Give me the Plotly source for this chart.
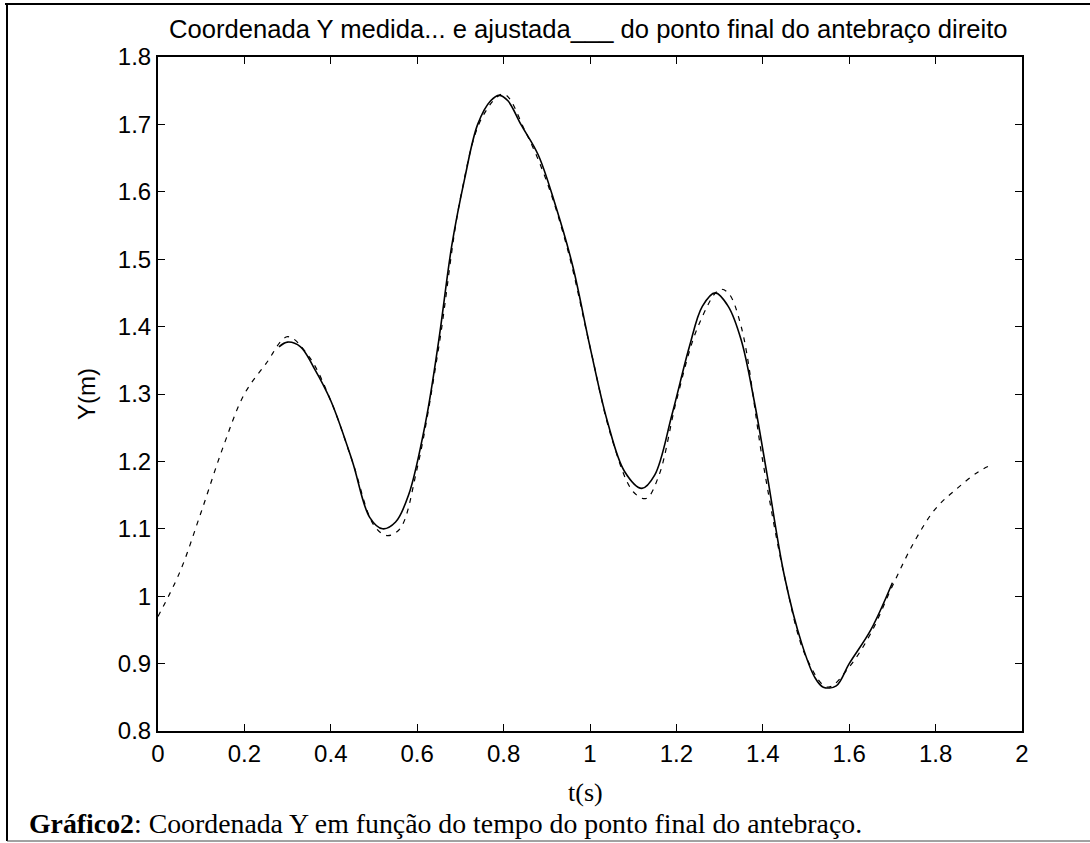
import plotly.graph_objects as go

# Measured (dashed) series
t_medida = [0.00, 0.05, 0.10, 0.15, 0.20, 0.25, 0.30, 0.35, 0.40, 0.45, 0.50, 0.53, 0.56,
            0.60, 0.65, 0.70, 0.75, 0.80, 0.85, 0.90, 0.95, 1.00, 1.05, 1.10, 1.13, 1.16,
            1.20, 1.25, 1.30, 1.32, 1.35, 1.40, 1.45, 1.50, 1.55, 1.60, 1.65, 1.70, 1.75,
            1.80, 1.85, 1.90, 1.93]
y_medida = [0.97, 1.035, 1.125, 1.22, 1.30, 1.345, 1.385, 1.355, 1.29, 1.20, 1.105, 1.09, 1.10,
            1.19, 1.37, 1.59, 1.71, 1.745, 1.69, 1.615, 1.51, 1.37, 1.235, 1.155, 1.145, 1.18,
            1.29, 1.40, 1.455, 1.45, 1.40, 1.20, 1.03, 0.91, 0.865, 0.895, 0.945, 1.015, 1.08,
            1.13, 1.16, 1.185, 1.195]

# Fitted (solid) series
t_ajustada = [0.28, 0.30, 0.33, 0.36, 0.40, 0.45, 0.49, 0.52, 0.55, 0.58, 0.62, 0.65, 0.68,
              0.71, 0.74, 0.77, 0.79, 0.81, 0.84, 0.88, 0.92, 0.96, 1.00, 1.04, 1.08, 1.12,
              1.15, 1.19, 1.23, 1.26, 1.29, 1.32, 1.35, 1.38, 1.41, 1.45, 1.49, 1.52, 1.54,
              1.57, 1.60, 1.65, 1.70]
y_ajustada = [1.37, 1.377, 1.37, 1.34, 1.29, 1.20, 1.117, 1.10, 1.11, 1.15, 1.26, 1.38, 1.52,
              1.62, 1.70, 1.735, 1.743, 1.735, 1.70, 1.655, 1.58, 1.49, 1.37, 1.26, 1.185, 1.16,
              1.18, 1.27, 1.37, 1.43, 1.45, 1.43, 1.38, 1.29, 1.18, 1.03, 0.93, 0.88, 0.865,
              0.867, 0.90, 0.95, 1.02]

x_ticks = [0, 0.2, 0.4, 0.6, 0.8, 1.0, 1.2, 1.4, 1.6, 1.8, 2.0]
x_ticklabels = ["0", "0.2", "0.4", "0.6", "0.8", "1", "1.2", "1.4", "1.6", "1.8", "2"]
y_ticks = [0.8, 0.9, 1.0, 1.1, 1.2, 1.3, 1.4, 1.5, 1.6, 1.7, 1.8]
y_ticklabels = ["0.8", "0.9", "1", "1.1", "1.2", "1.3", "1.4", "1.5", "1.6", "1.7", "1.8"]

W, H = 1090, 843
L, R, T, B = 158, 1022, 57, 731


def px(x):
    return (x - L) / (R - L)


def py(y):
    return 1 - (y - T) / (B - T)


fig = go.Figure()
fig.add_trace(go.Scatter(x=t_medida, y=y_medida, mode="lines", line_shape="spline",
                         line=dict(color="black", width=1.2, dash="5px,6px"), showlegend=False))
fig.add_trace(go.Scatter(x=t_ajustada, y=y_ajustada, mode="lines", line_shape="spline",
                         line=dict(color="black", width=1.6), showlegend=False))

axis_common = dict(showline=True, linecolor="black", linewidth=2, mirror="ticks",
                   ticks="inside", ticklen=7, tickwidth=1, tickcolor="black",
                   showgrid=False, zeroline=False,
                   tickfont=dict(family="Liberation Sans, Arial", size=24, color="black"))

fig.update_xaxes(range=[0, 2], tickvals=x_ticks, ticktext=x_ticklabels, **axis_common)
fig.update_yaxes(range=[0.8, 1.8], tickvals=y_ticks, ticktext=y_ticklabels, **axis_common)

fig.update_layout(
    width=W, height=H,
    margin=dict(l=L, r=W - R, t=T, b=H - B),
    plot_bgcolor="white", paper_bgcolor="white",
)

annotations = [
    dict(text="Coordenada Y medida... e ajustada___ do ponto final do antebraço direito",
         x=px(588), y=py(29), xref="paper", yref="paper", showarrow=False,
         xanchor="center", yanchor="middle",
         font=dict(family="Liberation Sans, Arial", size=25.6, color="black")),
    dict(text="Y(m)", x=px(86), y=py(394), xref="paper", yref="paper", showarrow=False,
         xanchor="center", yanchor="middle", textangle=-90,
         font=dict(family="Liberation Sans, Arial", size=24, color="black")),
    dict(text="t(s)", x=px(585), y=py(792), xref="paper", yref="paper", showarrow=False,
         xanchor="center", yanchor="middle",
         font=dict(family="Liberation Serif, Times New Roman", size=26, color="black")),
    dict(text="<b>Gráfico2</b>: Coordenada Y em função do tempo do ponto final do antebraço.",
         x=px(27), y=py(823), xref="paper", yref="paper", showarrow=False,
         xanchor="left", yanchor="middle",
         font=dict(family="Liberation Serif, Times New Roman", size=27.8, color="black")),
]
fig.update_layout(annotations=annotations)

shapes = [
    dict(type="line", xref="paper", yref="paper", x0=px(5), x1=px(1090), y0=py(4), y1=py(4),
         line=dict(color="black", width=2)),
    dict(type="line", xref="paper", yref="paper", x0=px(7), x1=px(7), y0=py(4), y1=py(841),
         line=dict(color="black", width=2)),
    dict(type="line", xref="paper", yref="paper", x0=px(7), x1=px(1090), y0=py(841), y1=py(841),
         line=dict(color="#444", width=1)),
]
fig.update_layout(shapes=shapes)

fig.write_html("out.html")
